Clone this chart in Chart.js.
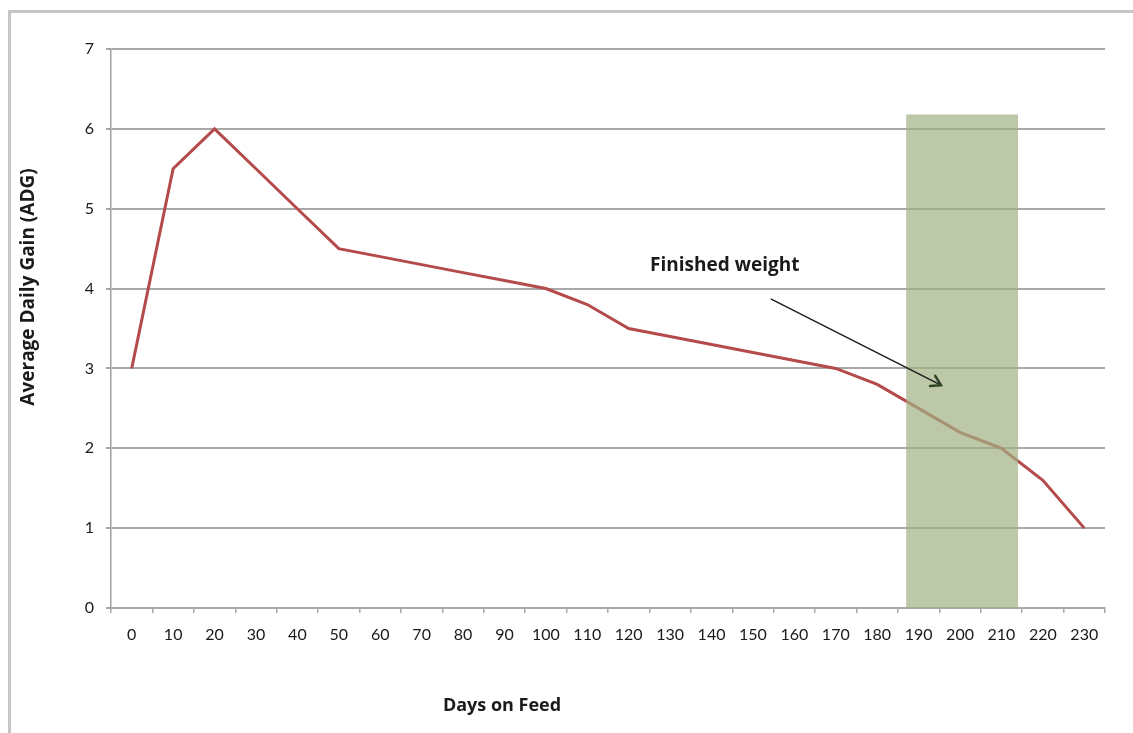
<!DOCTYPE html>
<html>
<head>
<meta charset="utf-8">
<script src="https://cdn.jsdelivr.net/npm/chart.js@4"></script>
<style>
  html, body { margin: 0; padding: 0; background: #fff; overflow: hidden; }
  #frame { position: absolute; left: 8px; top: 10px; width: 1200px; height: 800px;
           border: 3px solid #c6c6c6; }
  #wrap { position: absolute; left: 0; top: 0; width: 1133px; height: 733px; }
</style>
</head>
<body>
<div id="frame"></div>
<div id="wrap"><canvas id="chart_adg"></canvas></div>
<script>
// days on feed (categories)
var days = [0, 10, 20, 30, 40, 50, 60, 70, 80, 90, 100, 110, 120, 130, 140, 150, 160, 170, 180, 190, 200, 210, 220, 230];
// average daily gain
var adg = [3.0, 5.5, 6.0, 5.5, 5.0, 4.5, 4.4, 4.3, 4.2, 4.1, 4.0, 3.8, 3.5, 3.4, 3.3, 3.2, 3.1, 3.0, 2.8, 2.5, 2.2, 2.0, 1.6, 1.0];
var yTicks = [0, 1, 2, 3, 4, 5, 6, 7];

// shaded "finished" window, in days / ADG
var bandDays = [187, 214];
var bandTop = 6.18;

// annotation: label position and arrow start/end, in days / ADG
var noteText = 'Finished weight';
var notePos = [143.2, 4.29];
var arrowFrom = [154.3, 3.87];
var arrowTo = [195.4, 2.79];

var xTitle = 'Days on Feed';
var yTitle = 'Average Daily Gain (ADG)';

var TICK_FONT = 'Lato, "Open Sans", sans-serif';
var TITLE_FONT = '"Open Sans", Lato, sans-serif';

function dayToPx(scale, d) {
    return scale.getPixelForValue(d / 10);
}

var chart_adg = new Chart(document.getElementById('chart_adg'), {
    type: 'line',
    data: {
        labels: days,
        datasets: [
            {
                label: 'ADG',
                data: adg,
                borderColor: '#b54a4b',
                borderWidth: 3,
                pointRadius: 0,
                tension: 0,
                fill: false
            }
        ]
    },
    options: {
        animation: false,
        responsive: true,
        maintainAspectRatio: false,
        layout: {
            padding: { left: 12, top: 49, right: 28, bottom: 10 }
        },
        plugins: {
            legend: { display: false },
            tooltip: { enabled: false }
        },
        scales: {
            x: {
                type: 'category',
                offset: true,
                grid: {
                    offset: true,
                    drawOnChartArea: false,
                    drawTicks: true,
                    tickLength: 5,
                    color: '#a8a8a8',
                    lineWidth: 1.5
                },
                border: { display: true, color: '#a8a8a8', width: 2 },
                ticks: {
                    color: '#1a1a1a',
                    padding: 12,
                    maxRotation: 0,
                    autoSkip: false,
                    font: { family: TICK_FONT, size: 16 }
                },
                afterFit: function(scale) { scale.height = 115; }
            },
            y: {
                min: 0,
                max: 7,
                afterBuildTicks: function(scale) {
                    scale.ticks = yTicks.map(function(v) { return { value: v }; });
                },
                grid: {
                    color: '#a8a8a8',
                    lineWidth: 2,
                    drawTicks: true,
                    tickLength: 5
                },
                border: { display: true, color: '#a0a0a0', width: 1.5 },
                ticks: {
                    color: '#1a1a1a',
                    padding: 12,
                    font: { family: TICK_FONT, size: 16 }
                },
                afterFit: function(scale) { scale.width = 99; }
            }
        }
    },
    plugins: [{
        id: 'bandAndNotes',
        afterDatasetsDraw: function(chart) {
            var ctx = chart.ctx;
            var xs = chart.scales.x, ys = chart.scales.y;
            var area = chart.chartArea;

            // translucent green window over the line
            var bx0 = dayToPx(xs, bandDays[0]);
            var bx1 = dayToPx(xs, bandDays[1]);
            var by = ys.getPixelForValue(bandTop);
            ctx.save();
            ctx.fillStyle = 'rgba(161, 176, 131, 0.7)';
            ctx.fillRect(bx0, by, bx1 - bx0, area.bottom - by);
            ctx.restore();

            // arrow
            var ax0 = dayToPx(xs, arrowFrom[0]), ay0 = ys.getPixelForValue(arrowFrom[1]);
            var ax1 = dayToPx(xs, arrowTo[0]), ay1 = ys.getPixelForValue(arrowTo[1]);
            var ang = Math.atan2(ay1 - ay0, ax1 - ax0);
            ctx.save();
            ctx.strokeStyle = '#1e1e1e';
            ctx.lineWidth = 1.5;
            ctx.beginPath();
            ctx.moveTo(ax0, ay0);
            ctx.lineTo(ax1, ay1);
            ctx.stroke();
            ctx.strokeStyle = '#2c4424';
            ctx.lineWidth = 2.5;
            ctx.lineCap = 'round';
            ctx.beginPath();
            ctx.moveTo(ax1 - 11 * Math.cos(ang - 0.55), ay1 - 11 * Math.sin(ang - 0.55));
            ctx.lineTo(ax1, ay1);
            ctx.lineTo(ax1 - 11 * Math.cos(ang + 0.55), ay1 - 11 * Math.sin(ang + 0.55));
            ctx.stroke();
            ctx.restore();

            // annotation label
            ctx.save();
            ctx.fillStyle = '#1a1a1a';
            ctx.font = 'bold 19px ' + TITLE_FONT;
            ctx.textAlign = 'center';
            ctx.textBaseline = 'middle';
            ctx.fillText(noteText, dayToPx(xs, notePos[0]), ys.getPixelForValue(notePos[1]));
            ctx.restore();

            // axis titles (placed off-centre, as in the original)
            ctx.save();
            ctx.fillStyle = '#1a1a1a';
            ctx.font = 'bold 18px ' + TITLE_FONT;
            ctx.textAlign = 'center';
            ctx.textBaseline = 'middle';
            ctx.fillText(xTitle, 502, 706);
            ctx.translate(29, 287);
            ctx.rotate(-Math.PI / 2);
            ctx.font = 'bold 19px ' + TITLE_FONT;
            ctx.fillText(yTitle, 0, 0);
            ctx.restore();
        }
    }]
});
</script>
</body>
</html>
